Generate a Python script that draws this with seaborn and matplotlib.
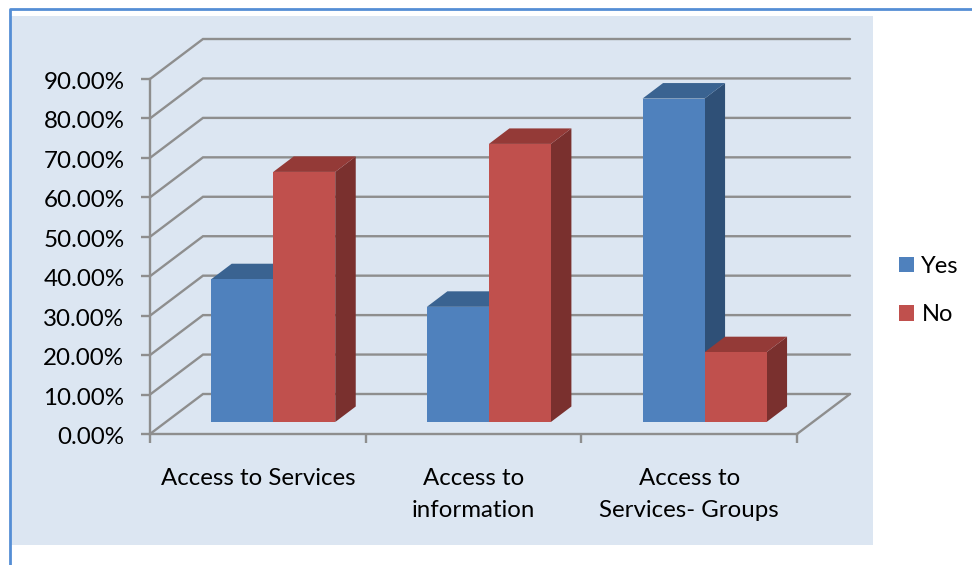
import matplotlib
matplotlib.use("Agg")
import matplotlib.pyplot as plt
from matplotlib.patches import Polygon, Rectangle
from matplotlib.lines import Line2D
from matplotlib.ticker import PercentFormatter
from matplotlib.transforms import ScaledTranslation
import pandas as pd
import seaborn as sns

categories = ["Access to Services", "Access to\ninformation", "Access to\nServices- Groups"]
yes_values = [36.2, 29.2, 82.0]
no_values = [63.4, 70.5, 17.7]
y_ticks = [0, 10, 20, 30, 40, 50, 60, 70, 80, 90]

W, H = 972, 565
GRID = "#8e8e8e"
PANEL = "#dce6f2"
FRAME = "#558ed5"
BLUE, RED = "#4f81bd", "#c0504d"
SIDE = {BLUE: "#2f5077", RED: "#7a302e"}
TOP = {BLUE: "#3a6391", RED: "#943a37"}

df = pd.DataFrame({
    "category": categories * 2,
    "series": ["Yes"] * 3 + ["No"] * 3,
    "value": yes_values + no_values,
})

sns.set_theme(style="white")
plt.rcParams["font.family"] = ["Lato", "DejaVu Sans"]
plt.rcParams["text.color"] = "black"
fig = plt.figure(figsize=(W / 100, H / 100), dpi=100, facecolor="white")


def rect(l, t, r, b):
    return [l / W, 1 - b / H, (r - l) / W, (b - t) / H]


fig.add_artist(Rectangle((11 / W, 1 - 545 / H), 862 / W, 529 / H, transform=fig.transFigure,
                         facecolor=PANEL, edgecolor="none", zorder=-5))
fig.add_artist(Line2D([9.5 / W, 9.5 / W, 1], [0, 1 - 8.5 / H, 1 - 8.5 / H], color=FRAME, lw=2, zorder=-4))

# Wall, floor and axis
ax = fig.add_axes(rect(150, 79, 797, 434), facecolor="none")
ax.set_xlim(-0.5, 2.5)
ax.set_ylim(0, 90)
px_x = 3 / 647
px_y = 90 / 355
wall_dx, wall_dy = 53 * px_x, 40 * px_y
for v in y_ticks:
    ax.plot([-0.5, -0.5 + wall_dx, 2.5 + wall_dx], [v, v + wall_dy, v + wall_dy],
            color=GRID, lw=1.7, clip_on=False, zorder=1, solid_joinstyle="miter")
ax.plot([2.5, 2.5 + wall_dx], [0, wall_dy], color=GRID, lw=1.7, clip_on=False, zorder=1)
for s in ("top", "right"):
    ax.spines[s].set_visible(False)
for s in ("left", "bottom"):
    ax.spines[s].set_color(GRID)
    ax.spines[s].set_linewidth(1.7)
ax.set_yticks(y_ticks)
ax.yaxis.set_major_formatter(PercentFormatter(decimals=2))
ax.set_xticks([-0.5, 0.5, 1.5, 2.5])
ax.set_xticklabels([])
ax.set_xticks(range(len(categories)), categories, minor=True)
ax.tick_params(axis="y", length=6.5, width=1.7, color=GRID, pad=12, labelsize=17.4, labelcolor="black", left=True)
ax.tick_params(axis="x", which="major", length=6.5, width=1.7, color=GRID, bottom=True)
ax.tick_params(axis="x", which="minor", length=0, pad=24.5, labelsize=17.3, labelcolor="black")
for t in ax.get_xticklabels(minor=True):
    t.set_linespacing(1.62)
nudge = ScaledTranslation(0, -1.5 / 100, fig.dpi_scale_trans)
for t in ax.get_yticklabels():
    t.set_transform(t.get_transform() + nudge)

# Bars, standing in a plane inset from the front of the floor
bx = fig.add_axes(rect(165.4, 67, 812.4, 422), facecolor="none")
sns.barplot(data=df, x="category", y="value", hue="series", hue_order=["Yes", "No"],
            palette={"Yes": BLUE, "No": RED}, order=categories, width=0.575, gap=0,
            saturation=1, ax=bx, legend=True, zorder=5, linewidth=0, edgecolor="none")
bx.set_xlim(-0.5, 2.5)
bx.set_ylim(0, 90)
bx.axis("off")
bar_dx, bar_dy = 20.5 * px_x, 15.5 * px_y
for group, colour in zip(bx.containers, (BLUE, RED)):
    for bar in group:
        x0, x1 = bar.get_x(), bar.get_x() + bar.get_width()
        h = bar.get_height()
        bx.add_patch(Polygon([(x1, 0), (x1 + bar_dx, bar_dy), (x1 + bar_dx, h + bar_dy), (x1, h)],
                             facecolor=SIDE[colour], edgecolor="none", clip_on=False, zorder=3))
        bx.add_patch(Polygon([(x0, h), (x0 + bar_dx, h + bar_dy), (x1 + bar_dx, h + bar_dy), (x1, h)],
                             facecolor=TOP[colour], edgecolor="none", clip_on=False, zorder=4))

sns.move_legend(bx, "center left", bbox_to_anchor=(878 / W, 1 - 290.5 / H),
                bbox_transform=fig.transFigure, frameon=False, title=None, fontsize=17,
                handlelength=0.64, handleheight=0.64, handletextpad=0.3, labelspacing=1.17,
                labelcolor="black")

fig.savefig("out.png", dpi=100, facecolor="white")
